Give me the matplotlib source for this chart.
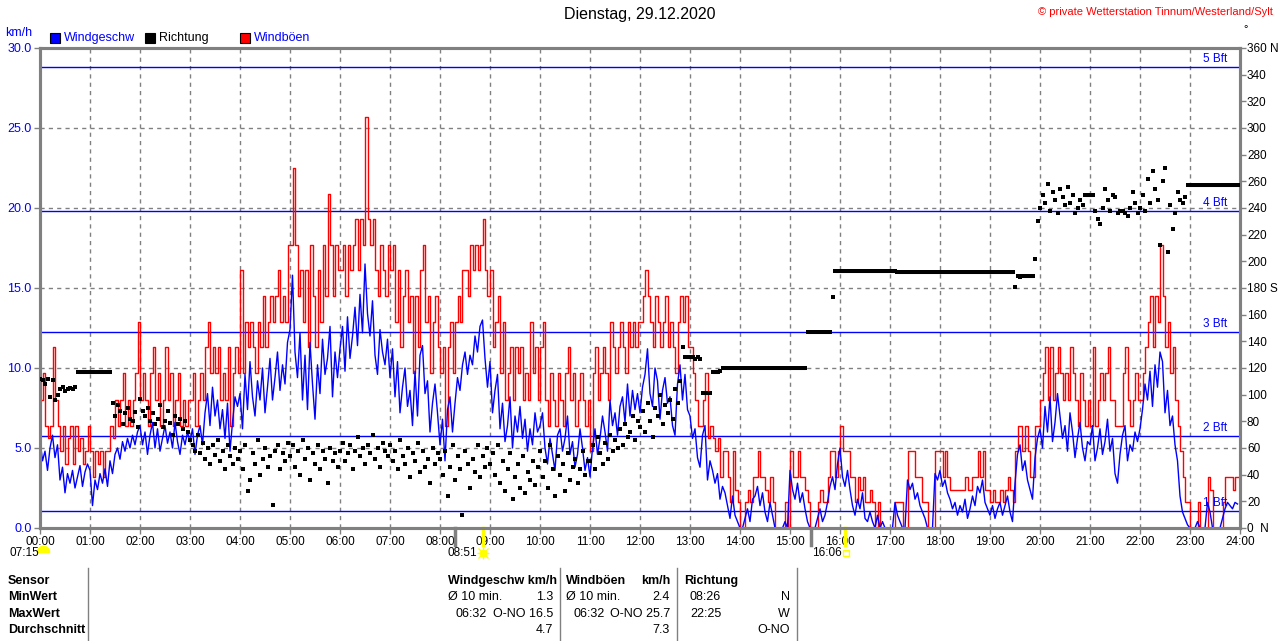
import numpy as np
import matplotlib
matplotlib.use("Agg")
import matplotlib.pyplot as plt

plt.rcParams['font.family'] = ['Liberation Sans Narrow', 'Liberation Sans', 'DejaVu Sans']

# 3-minute samples, 20 per hour
speed = [
    5.5, 4.2, 4.8, 3.6, 5.0, 5.8, 4.4, 5.2, 3.0, 3.8, 2.2, 3.4, 2.8, 3.6, 2.5, 3.2, 3.9, 2.6, 3.5, 4.0,
    3.6, 1.4, 3.0, 2.4, 3.4, 2.8, 3.7, 2.6, 4.2, 3.4, 4.6, 5.0, 4.3, 5.4, 4.8, 5.6, 5.0, 5.8, 5.2, 6.0,
    6.4, 5.2, 6.0, 4.6, 5.8, 6.6, 5.0, 6.2, 4.8, 5.6, 6.4, 5.3, 6.0, 5.0, 6.6, 5.4, 4.6, 5.8, 5.2, 6.0,
    5.4, 6.2, 4.6, 5.8, 6.4, 5.2, 7.2, 8.4, 6.4, 8.8, 7.0, 8.0, 6.2, 7.4, 5.6, 7.8, 4.8, 6.6, 8.2, 7.6,
    8.4, 6.2, 9.6, 7.4, 10.4, 8.2, 7.0, 9.2, 8.0, 10.0, 7.2, 8.8, 10.6, 8.0, 9.4, 11.0, 8.6, 10.2, 9.0, 11.6,
    12.4, 15.8, 11.0, 9.4, 12.2, 8.0, 10.8, 7.4, 11.6, 9.0, 6.8, 10.2, 8.4, 11.8, 9.6, 10.6, 12.6, 8.2, 11.0, 9.4,
    11.2, 12.6, 9.8, 13.2, 10.6, 12.0, 13.8, 11.4, 14.6, 12.2, 16.5, 13.4, 12.0, 14.2, 10.8, 9.6, 12.4, 11.0, 10.2, 11.8,
    9.4, 11.2, 8.2, 10.4, 7.2, 8.8, 10.0, 7.6, 8.6, 6.4, 9.8, 7.0, 10.8, 11.4, 8.4, 9.2, 6.0, 7.8, 9.0, 7.2,
    5.2, 6.8, 4.2, 7.4, 8.2, 6.0, 7.8, 9.4, 8.6, 10.2, 11.0, 9.6, 10.8, 10.2, 12.0, 11.0, 12.6, 13.0, 10.6, 8.8,
    10.4, 7.2, 8.6, 9.6, 6.2, 7.8, 5.4, 6.4, 8.2, 5.0, 7.0, 6.0, 7.6, 5.6, 6.8, 4.8, 6.2, 5.2, 7.2, 6.0,
    6.4, 7.2, 5.0, 4.0, 5.6, 4.6, 3.6, 5.8, 6.2, 4.8, 5.6, 7.0, 4.6, 5.4, 3.8, 4.6, 6.2, 5.0, 3.6, 4.4,
    3.2, 5.0, 6.2, 4.6, 5.6, 7.0, 6.0, 4.8, 8.0, 6.4, 7.2, 5.8, 7.6, 8.2, 6.6, 9.0, 7.0, 8.6, 7.4, 8.4,
    7.2, 8.8, 9.6, 11.2, 8.4, 7.6, 10.0, 9.2, 6.8, 8.6, 9.4, 7.8, 8.2, 6.4, 5.8, 9.0, 10.2, 8.0, 9.6, 7.4,
    7.0, 5.6, 6.2, 4.4, 3.8, 5.8, 6.4, 3.0, 4.2, 3.6, 2.8, 3.4, 1.8, 2.6, 2.2, 1.4, 0.6, 2.0, 0.8, 0.4,
    0.0, 0.0, 0.6, 1.2, 0.4, 1.8, 2.0, 2.6, 1.4, 2.2, 1.0, 0.4, 1.6, 0.8, 0.0, 0.0, 0.0, 0.0, 0.4, 0.0,
    3.6, 2.4, 1.8, 2.8, 1.6, 2.2, 1.2, 0.4, 0.0, 0.0, 0.0, 0.6, 1.2, 0.4, 0.8, 1.6, 2.6, 3.2, 2.4, 4.0,
    5.0, 3.2, 2.6, 3.6, 2.4, 1.4, 0.8, 1.8, 1.2, 2.2, 0.6, 0.4, 1.0, 0.4, 0.0, 0.8, 0.0, 0.4, 0.0, 0.0,
    0.0, 0.0, 1.6, 0.8, 0.4, 0.0, 0.0, 3.0, 2.4, 2.8, 1.8, 2.2, 1.4, 1.0, 0.6, 0.0, 0.0, 0.0, 3.4, 3.0,
    3.6, 2.6, 3.0, 2.2, 1.8, 1.2, 1.6, 0.8, 1.4, 1.0, 1.8, 0.6, 1.2, 2.0, 1.4, 2.6, 2.2, 3.0, 1.6, 1.2,
    0.8, 1.4, 0.6, 1.2, 1.6, 0.8, 1.4, 2.0, 1.0, 0.4, 2.8, 4.6, 5.2, 3.6, 4.2, 3.0, 2.4, 1.8, 4.4, 5.6,
    6.2, 5.0, 7.6, 6.0, 8.2, 5.4, 6.6, 8.4, 7.0, 5.6, 6.4, 4.8, 7.2, 6.0, 4.4, 5.6, 6.6, 5.0, 4.2, 5.4,
    5.2, 6.4, 4.2, 5.0, 6.2, 4.6, 5.4, 6.8, 4.8, 5.6, 3.4, 2.8, 4.6, 5.8, 6.4, 4.2, 5.2, 4.8, 6.0, 5.4,
    6.2, 7.4, 9.0, 8.0, 9.8, 7.6, 10.2, 8.8, 11.0, 10.4, 7.2, 8.6, 6.4, 7.0, 5.2, 4.2, 2.0, 1.0, 0.6, 0.2,
    0.0, 0.0, 0.0, 0.4, 0.0, 0.0, 0.0, 1.6, 1.0, 0.0, 0.0, 0.0, 0.0, 0.6, 1.2, 1.6, 1.4, 1.2, 1.6, 1.5,
]

gusts = [
    8.0, 9.7, 6.4, 5.6, 6.4, 11.3, 8.0, 6.4, 4.8, 6.4, 4.0, 5.6, 6.4, 4.0, 6.4, 4.8, 5.6, 4.0, 4.8, 6.4,
    4.8, 3.2, 4.8, 4.0, 4.8, 3.2, 4.8, 4.8, 6.4, 5.6, 8.0, 6.4, 8.0, 9.7, 6.4, 8.0, 6.4, 8.0, 9.7, 12.9,
    8.0, 9.7, 8.0, 6.4, 9.7, 11.3, 8.0, 9.7, 6.4, 8.0, 11.3, 8.0, 9.7, 6.4, 8.0, 9.7, 6.4, 8.0, 6.4, 8.0,
    8.0, 9.7, 6.4, 8.0, 9.7, 8.0, 11.3, 12.9, 9.7, 11.3, 9.7, 11.3, 8.0, 9.7, 8.0, 11.3, 6.4, 9.7, 11.3, 9.7,
    16.1, 9.7, 12.9, 11.3, 12.9, 11.3, 9.7, 12.9, 11.3, 14.5, 11.3, 12.9, 14.5, 12.9, 14.5, 16.1, 12.9, 14.5, 12.9, 17.7,
    17.7, 22.5, 17.7, 14.5, 16.1, 12.9, 16.1, 11.3, 17.7, 14.5, 11.3, 16.1, 12.9, 17.7, 14.5, 20.9, 17.7, 14.5, 17.7, 16.1,
    16.1, 17.7, 14.5, 17.7, 16.1, 17.7, 19.3, 16.1, 19.3, 17.7, 25.7, 19.3, 17.7, 19.3, 16.1, 14.5, 17.7, 16.1, 14.5, 17.7,
    16.1, 17.7, 12.9, 16.1, 11.3, 14.5, 16.1, 12.9, 14.5, 9.7, 14.5, 11.3, 16.1, 17.7, 12.9, 14.5, 9.7, 12.9, 14.5, 11.3,
    9.7, 11.3, 6.4, 11.3, 12.9, 9.7, 12.9, 14.5, 12.9, 16.1, 16.1, 14.5, 17.7, 16.1, 17.7, 16.1, 17.7, 19.3, 16.1, 14.5,
    16.1, 11.3, 12.9, 14.5, 9.7, 12.9, 8.0, 9.7, 11.3, 8.0, 11.3, 9.7, 11.3, 8.0, 9.7, 8.0, 12.9, 9.7, 11.3, 8.0,
    11.3, 12.9, 8.0, 6.4, 9.7, 8.0, 6.4, 9.7, 8.0, 6.4, 9.7, 11.3, 8.0, 9.7, 6.4, 8.0, 9.7, 8.0, 6.4, 8.0,
    4.8, 9.7, 11.3, 8.0, 9.7, 11.3, 9.7, 8.0, 12.9, 11.3, 9.7, 11.3, 12.9, 11.3, 9.7, 12.9, 11.3, 12.9, 11.3, 12.9,
    12.9, 14.5, 16.1, 14.5, 12.9, 11.3, 14.5, 12.9, 11.3, 12.9, 14.5, 11.3, 12.9, 11.3, 9.7, 12.9, 14.5, 12.9, 14.5, 11.3,
    11.3, 9.7, 8.0, 6.4, 6.4, 8.0, 9.7, 5.6, 6.4, 5.6, 4.8, 5.6, 3.2, 4.8, 4.8, 3.2, 1.6, 4.8, 2.4, 1.6,
    0.0, 0.0, 1.6, 2.4, 1.6, 3.2, 3.2, 4.8, 3.2, 3.2, 2.4, 1.6, 3.2, 1.6, 0.0, 0.0, 0.0, 0.0, 1.6, 0.0,
    4.8, 3.2, 3.2, 4.8, 3.2, 3.2, 2.4, 1.6, 0.0, 0.0, 0.0, 1.6, 2.4, 1.6, 1.6, 3.2, 4.8, 4.8, 3.2, 4.8,
    6.4, 4.8, 4.8, 4.8, 3.2, 3.2, 1.6, 3.2, 2.4, 3.2, 1.6, 1.6, 2.4, 1.6, 0.0, 1.6, 0.0, 0.0, 0.0, 0.0,
    0.0, 0.0, 1.6, 1.6, 1.6, 0.0, 0.0, 4.8, 4.8, 4.8, 3.2, 3.2, 3.2, 1.6, 1.6, 0.0, 0.0, 0.0, 4.8, 4.8,
    4.8, 3.2, 4.8, 3.2, 2.4, 2.4, 2.4, 2.4, 2.4, 2.4, 3.2, 2.4, 2.4, 3.2, 3.2, 4.8, 3.2, 4.8, 2.4, 2.4,
    1.6, 2.4, 1.6, 1.6, 2.4, 1.6, 2.4, 3.2, 2.4, 1.6, 4.8, 6.4, 6.4, 4.8, 6.4, 4.8, 3.2, 3.2, 6.4, 6.4,
    8.0, 9.7, 11.3, 8.0, 11.3, 8.0, 9.7, 11.3, 9.7, 8.0, 9.7, 8.0, 11.3, 9.7, 8.0, 6.4, 9.7, 8.0, 6.4, 8.0,
    6.4, 11.3, 6.4, 8.0, 9.7, 8.0, 9.7, 11.3, 8.0, 8.0, 6.4, 6.4, 6.4, 9.7, 11.3, 8.0, 6.4, 8.0, 9.7, 8.0,
    8.0, 9.7, 11.3, 12.9, 14.5, 11.3, 14.5, 12.9, 17.7, 14.5, 11.3, 12.9, 9.7, 11.3, 8.0, 6.4, 4.8, 3.2, 1.6, 1.6,
    0.0, 0.0, 0.0, 1.6, 0.0, 0.0, 0.0, 3.2, 2.4, 0.0, 0.0, 0.0, 0.0, 1.6, 3.2, 3.2, 3.2, 2.4, 3.2, 3.2,
]

direction = [
    112, 111, 108, 112, 98, 111, 96, 100, 104, 106, 103, 104, 105, 104, 106, 117, 117, 117, 117, 117,
    117, 117, 117, 117, 117, 117, 117, 117, 117, 94, 84, 92, 88, 78, 86, 90, 82, 80, 87, 76,
    97, 88, 84, 90, 80, 86, 78, 82, 92, 76, 80, 88, 79, 70, 84, 78, 82, 74, 80, 72,
    66, 62, 58, 70, 56, 64, 52, 60, 48, 62, 55, 66, 50, 58, 44, 62, 54, 48, 60, 52,
    58, 44, 62, 28, 36, 56, 48, 66, 40, 52, 60, 46, 54, 17, 58, 62, 44, 56, 50, 64,
    54, 62, 46, 58, 40, 66, 52, 60, 36, 56, 48, 62, 44, 58, 52, 34, 60, 50, 56, 46,
    58, 64, 50, 56, 62, 44, 58, 68, 54, 60, 48, 62, 56, 70, 52, 60, 46, 64, 58, 54,
    62, 50, 58, 44, 66, 54, 48, 60, 38, 56, 50, 64, 42, 58, 46, 52, 34, 60, 48, 56,
    52, 40, 58, 24, 46, 62, 36, 54, 44, 10, 58, 48, 30, 52, 42, 62, 38, 54, 46, 60,
    48, 56, 40, 62, 34, 50, 28, 44, 56, 22, 38, 48, 30, 54, 26, 42, 36, 50, 32, 46,
    58, 38, 50, 30, 62, 44, 24, 54, 40, 48, 28, 56, 36, 46, 52, 34, 44, 58, 40, 50,
    50, 62, 44, 68, 56, 48, 64, 52, 70, 58, 66, 60, 74, 62, 78, 68, 72, 84, 66, 80,
    76, 88, 72, 94, 80, 68, 90, 84, 100, 78, 92, 86, 96, 82, 104, 94, 110, 136, 128, 128,
    128, 128, 127, 128, 127, 101, 101, 101, 101, 117, 117, 117, 118, 120, 120, 120, 120, 120, 120, 120,
    120, 120, 120, 120, 120, 120, 120, 120, 120, 120, 120, 120, 120, 120, 120, 120, 120, 120, 120, 120,
    120, 120, 120, 120, 120, 120, 120, 147, 147, 147, 147, 147, 147, 147, 147, 147, 147, 173, 193, 193,
    193, 193, 193, 193, 193, 193, 193, 193, 193, 193, 193, 193, 193, 193, 193, 193, 193, 193, 193, 193,
    193, 193, 193, 192, 192, 192, 192, 192, 192, 192, 192, 192, 192, 192, 192, 192, 192, 192, 192, 192,
    192, 192, 192, 192, 192, 192, 192, 192, 192, 192, 192, 192, 192, 192, 192, 192, 192, 192, 192, 192,
    192, 192, 192, 192, 192, 192, 192, 192, 192, 192, 181, 189, 188, 189, 189, 189, 189, 189, 202, 230,
    240, 250, 244, 258, 238, 252, 246, 236, 254, 248, 242, 256, 244, 250, 236, 240, 246, 242, 250, 250,
    250, 250, 238, 232, 228, 240, 254, 246, 238, 250, 248, 236, 238, 238, 236, 234, 240, 252, 244, 236,
    240, 250, 238, 262, 244, 268, 254, 246, 212, 260, 270, 207, 242, 224, 236, 252, 246, 244, 248, 257,
    257, 257, 257, 257, 257, 257, 257, 257, 257, 257, 257, 257, 257, 257, 257, 257, 257, 257, 257, 257,
]

bft_limits = [1.08, 5.76, 12.24, 19.8, 28.8]
bft_names = ["1 Bft", "2 Bft", "3 Bft", "4 Bft", "5 Bft"]
hour_labels = ["%02d:00" % h for h in range(25)]

t = np.arange(len(speed)) * 3 / 60.0

fig = plt.figure(figsize=(12.8, 6.41), dpi=100)
W, H = 1280, 641
ax = fig.add_axes([40 / W, (H - 528) / H, 1200 / W, 480 / H])
ax2 = ax.twinx()

blue = "#0000ff"
red = "#ff0000"
gray = "#808080"

ax.plot(t, gusts, color=red, lw=1.0, drawstyle="steps-post", zorder=3)
ax.plot(t, speed, color=blue, lw=1.0, zorder=4)
for v, name in zip(bft_limits, bft_names):
    ax.axhline(v, color=blue, lw=1.0, zorder=2)
    ax.text(23.75, v + 0.12, name, color=blue, fontsize=8.5, ha="right", va="bottom", zorder=5)

ax.set_xlim(0, 24)
ax.set_ylim(0, 30)
ax.set_xticks(range(25))
ax.set_xticklabels(hour_labels, fontsize=8.5)
ax.set_yticks(np.arange(0, 31, 5))
ax.set_yticklabels(["%.1f" % v for v in np.arange(0, 31, 5)], color=blue, fontsize=9)
ax.grid(True, color=gray, ls=(0, (3, 3)), lw=1)
ax.tick_params(axis="both", length=4, color=gray, width=1, pad=2)

# direction: single readings as small squares, steady periods joined as a bar
d = np.array(direction, dtype=float)
steady = np.where(np.r_[d[1:] == d[:-1], False], d, np.nan)
t_ext = np.r_[t, t[-1] + 0.05]
ax2.plot(t_ext, np.r_[steady, steady[-1] if np.isnan(steady[-1]) else d[-1]], color="black",
         lw=2.2, drawstyle="steps-post", solid_capstyle="butt", zorder=6)
ax2.plot(t, d, ls="none", marker="s", ms=2.3, color="black", mew=0, zorder=6)
ax2.set_ylim(0, 360)
ax2.set_yticks(range(0, 361, 20))
rlabels = [str(v) for v in range(0, 361, 20)]
rlabels[0] = "0  N"
rlabels[9] = "180 S"
rlabels[18] = "360 N"
ax2.set_yticklabels(rlabels, fontsize=8.5)
ax2.tick_params(axis="y", length=4, color=gray, width=1, pad=1)

for a in (ax, ax2):
    for s in a.spines.values():
        s.set_color(gray)
        s.set_linewidth(2.2)

# sun markers under the time axis
tr = ax.get_xaxis_transform()
ax.plot([8.3, 8.3], [0, -0.035], color=gray, lw=2.5, transform=tr, clip_on=False)
ax.plot([15.42, 15.42], [0, -0.035], color=gray, lw=2.5, transform=tr, clip_on=False)
ax.plot([8.85, 8.85], [0, -0.035], color="#ffff00", lw=2.5, transform=tr, clip_on=False)
ax.plot([16.1, 16.1], [0, -0.035], color="#ffff00", lw=2.5, transform=tr, clip_on=False)
half = [(np.cos(a), np.sin(a)) for a in np.linspace(0, np.pi, 12)] + [(1, 0)]
ax.plot([0.05], [-0.05], marker=half, ms=9, color="#ffff00", transform=tr, clip_on=False)
ax.plot([8.85], [-0.052], marker="o", ms=4.5, color="#ffff00", transform=tr, clip_on=False)
ax.plot([8.85], [-0.052], marker="+", ms=9, mew=1, color="#ffff00", transform=tr, clip_on=False)
ax.plot([8.85], [-0.052], marker="x", ms=7, mew=1, color="#ffff00", transform=tr, clip_on=False)
ax.plot([16.12], [-0.052], marker="s", ms=5, mfc="white", mec="#ffff00", mew=1, transform=tr, clip_on=False)
fig.text(10 / W, 1 - 553 / H, "07:15", fontsize=8.5, va="center")
fig.text(448 / W, 1 - 553 / H, "08:51", fontsize=8.5, va="center")
fig.text(812 / W, 1 - 553 / H, "16:06", fontsize=8.5, va="center")

# header texts
fig.text(640 / W, 1 - 15 / H, "Dienstag, 29.12.2020", fontsize=11.5, ha="center", va="center")
fig.text(1273 / W, 1 - 12 / H, "© private Wetterstation Tinnum/Westerland/Sylt", fontsize=8,
         color=red, ha="right", va="center")
fig.text(5 / W, 1 - 33 / H, "km/h", fontsize=9, color=blue, va="center")
fig.text(1243 / W, 1 - 29 / H, "°", fontsize=8, va="center")

legend_items = [(50, blue, "Windgeschw", blue), (145, "black", "Richtung", "black"), (240, red, "Windböen", blue)]
for x0, c, label, tc in legend_items:
    fig.patches.append(plt.Rectangle((x0 / W, 1 - 43 / H), 10 / W, 10 / H, transform=fig.transFigure,
                                     facecolor=c, edgecolor="black", lw=0.8))
    fig.text((x0 + 14) / W, 1 - 38 / H, label, fontsize=9, color=tc, va="center")

# statistics table
rows_y = [581, 597, 614, 630]
for y, label in zip(rows_y, ["Sensor", "MinWert", "MaxWert", "Durchschnitt"]):
    fig.text(8 / W, 1 - y / H, label, fontsize=9, fontweight="bold", va="center")
for xs in [88, 560, 677, 797]:
    fig.add_artist(plt.Line2D([xs / W, xs / W], [0, 1 - 568 / H], color=gray, lw=1))

cells = [
    (448, 581, "Windgeschw km/h", "left", True),
    (448, 597, "Ø 10 min.", "left", False),
    (553, 597, "1.3", "right", False),
    (455, 614, "06:32", "left", False),
    (553, 614, "O-NO 16.5", "right", False),
    (553, 630, "4.7", "right", False),
    (566, 581, "Windböen", "left", True),
    (670, 581, "km/h", "right", True),
    (566, 597, "Ø 10 min.", "left", False),
    (670, 597, "2.4", "right", False),
    (573, 614, "06:32", "left", False),
    (670, 614, "O-NO 25.7", "right", False),
    (670, 630, "7.3", "right", False),
    (684, 581, "Richtung", "left", True),
    (690, 597, "08:26", "left", False),
    (790, 597, "N", "right", False),
    (690, 614, "22:25", "left", False),
    (790, 614, "W", "right", False),
    (790, 630, "O-NO", "right", False),
]
for x, y, s, ha, bold in cells:
    fig.text(x / W, 1 - y / H, s, fontsize=9, ha=ha, va="center",
             fontweight="bold" if bold else "normal")

fig.savefig("out.png", dpi=100)
